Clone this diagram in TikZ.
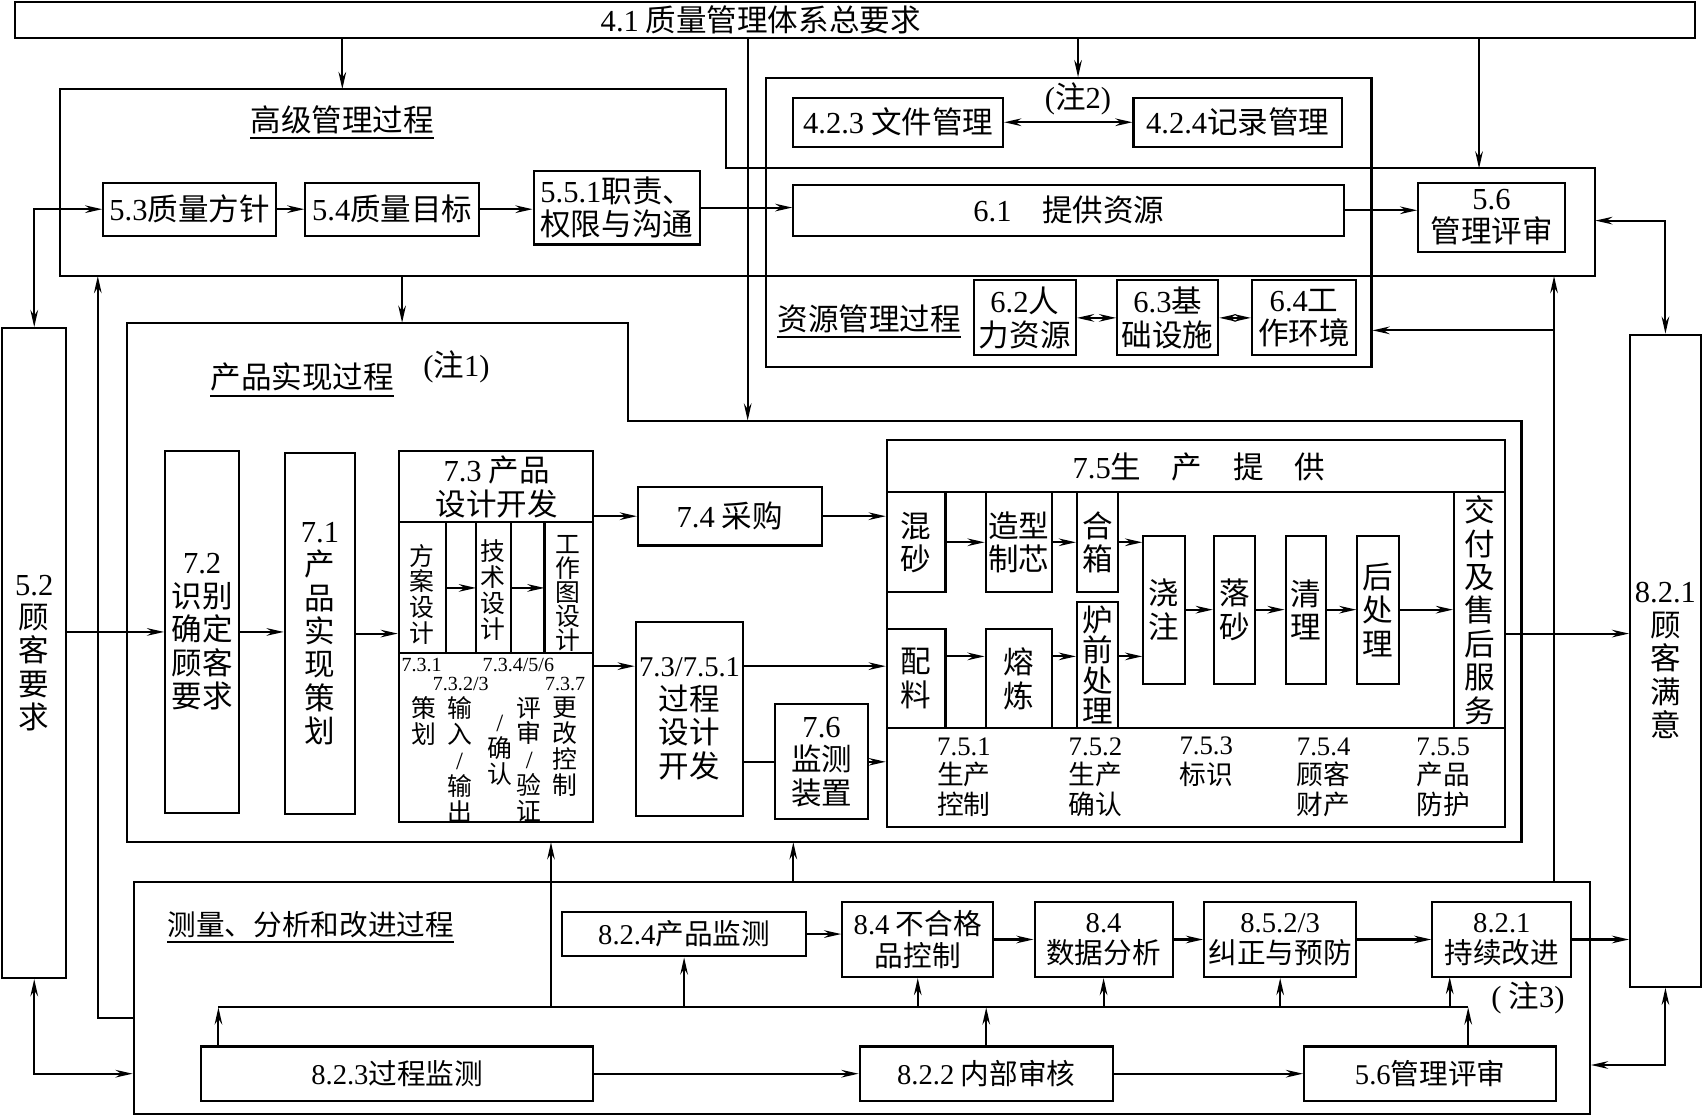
\documentclass[tikz,border=0pt]{standalone}
\usepackage{fontspec}
\setmainfont{Liberation Serif}
\newfontfamily\cjk{Noto Sans CJK SC}
\usetikzlibrary{arrows.meta,fit}
\newcommand\dg[1]{{\rmfamily #1}}

\tikzset{
  lbl/.style={font=\cjk\fontsize{16}{17.5}\selectfont, align=center, inner sep=0pt},
  box/.style={draw, line width=1.1pt, inner sep=0pt},
  tx/.style={label={[lbl]center:{#1}}},
  mtx/.style={label={[lbl,msr]center:{#1}}},
  sml/.style={font=\cjk\fontsize{13}{13.6}\selectfont, align=center, inner sep=0pt},
  tny/.style={font=\rmfamily\fontsize{10.5}{11}\selectfont, inner sep=0pt},
  mid/.style={font=\cjk\fontsize{14}{15.5}\selectfont, align=center, inner sep=0pt},
  msr/.style={font=\cjk\fontsize{15}{16.5}\selectfont},
  ln/.style={line width=1.1pt},
  arr/.style={ln, -{Stealth[length=9pt,width=4pt,inset=3pt]}},
  darr/.style={ln, {Stealth[length=9pt,width=4pt,inset=3pt]}-{Stealth[length=9pt,width=4pt,inset=3pt]}}
}

\begin{document}
\begin{tikzpicture}[x=0.02cm, y=-0.02cm]
\useasboundingbox (0,0) rectangle (1568,1027);

% 4.1
\node[box, fit={(14,2)(1560,35)}] (req) {};
\node[lbl] (reqt) at (700,18) {\dg{4.1} 质量管理体系总要求};

% top management process
\coordinate (hm1) at (55,82);
\coordinate (hm2) at (668,82);
\coordinate (hm3) at (668,155);
\coordinate (hm4) at (1468,155);
\coordinate (hm5) at (1468,254);
\coordinate (hm6) at (55,254);
\draw[ln] (hm1) -- (hm2) -- (hm3) -- (hm4) -- (hm5) -- (hm6) -- cycle;
\node[lbl] (hmt) at (315,110) {高级管理过程};
\draw[ln] ([yshift=-2pt]hmt.south west) -- ([yshift=-2pt]hmt.south east);
\node[box, fit={(95,168)(254,217)}, tx={\dg{5.3}质量方针}] (q53) {};
\node[box, fit={(281,168)(441,217)}, tx={\dg{5.4}质量目标}] (q54) {};
\node[box, fit={(491,157)(644,225)}, tx={\dg{5.5.1}职责、\\权限与沟通}] (q551) {};

% resource management process
\node[box, fit={(705,72)(1262,338)}] (res) {};
\node[box, fit={(730,90)(923,135)}, tx={\dg{4.2.3} 文件管理}] (d423) {};
\node[box, fit={(1043,90)(1235,135)}, tx={\dg{4.2.4}记录管理}] (d424) {};
\node[lbl] (n2) at (992,91) {\dg{(}注\dg{2)}};
\node[box, fit={(730,170)(1237,217)}, tx={\dg{6.1}\quad 提供资源}] (r61) {};
\node[box, fit={(1305,168)(1440,232)}, tx={\dg{5.6}\\管理评审}] (r56) {};
\node[lbl] (rest) at (800,293) {资源管理过程};
\draw[ln] ([yshift=-2pt]rest.south west) -- ([yshift=-2pt]rest.south east);
\node[box, fit={(896,258)(990,327)}, tx={\dg{6.2}人\\力资源}] (r62) {};
\node[box, fit={(1028,258)(1121,327)}, tx={\dg{6.3}基\\础设施}] (r63) {};
\node[box, fit={(1152,258)(1248,327)}, tx={\dg{6.4}工\\作环境}] (r64) {};

% customer columns
\node[box, fit={(2,302)(61,900)}, tx={\dg{5.2}\\顾\\客\\要\\求}] (c52) {};
\node[box, fit={(1500,308)(1565,908)}, tx={\dg{8.2.1}\\顾\\客\\满\\意}] (c821) {};

% product realization process
\coordinate (pr1) at (117,297);
\coordinate (pr2) at (578,297);
\coordinate (pr3) at (578,387);
\coordinate (pr4) at (1400,387);
\coordinate (pr5) at (1400,775);
\coordinate (pr6) at (117,775);
\draw[ln] (pr1) -- (pr2) -- (pr3) -- (pr4) -- (pr5) -- (pr6) -- cycle;
\node[lbl] (prt) at (278,347) {产品实现过程};
\draw[ln] ([yshift=-2pt]prt.south west) -- ([yshift=-2pt]prt.south east);
\node[lbl] (n1) at (420,338) {\dg{(}注\dg{1)}};

\node[box, fit={(152,415)(220,748)}, tx={\dg{7.2}\\识别\\确定\\顾客\\要求}] (p72) {};
\node[box, fit={(262,417)(327,749)}, tx={\dg{7.1}\\产\\品\\实\\现\\策\\划}] (p71) {};

% 7.3 design
\node[box, fit={(367,415)(546,756)}] (p73) {};
\coordinate (p73a) at (367,480);
\coordinate (p73b) at (367,601);
\draw[ln] (p73a) -- (p73a -| p73.east);
\draw[ln] (p73b) -- (p73b -| p73.east);
\node[lbl] (p73t) at (457,448) {\dg{7.3}\ 产品\\设计开发};
\foreach \x [count=\i] in {410,438,470,501} {
  \coordinate (dv\i) at (\x,541);
  \draw[ln] (\x,480) -- (\x,601);
}
\node[sml] (f1) at (388,547) {方\\案\\设\\计};
\node[sml] (f2) at (454,543) {技\\术\\设\\计};
\node[sml, font=\cjk\fontsize{13}{12.5}\selectfont] (f3) at (523,546) {工\\作\\图\\设\\计};
\draw[arr] (dv1) -- (dv2);
\draw[arr] (dv3) -- (dv4);
\node[tny] (t731) at (388,612) {7.3.1};
\node[tny] (t7323) at (424,629) {7.3.2/3};
\node[tny] (t73456) at (477,612) {7.3.4/5/6};
\node[tny] (t737) at (520,629) {7.3.7};
\node[sml, anchor=north] (v1) at (390,641) {策\\划};
\node[sml, anchor=north] (v2) at (423,641) {输\\入\\\dg{/}\\输\\出};
\node[sml, anchor=north] (v3) at (460,658) {\dg{/}\\确\\认};
\node[sml, anchor=north] (v4) at (487,641) {评\\审\\\dg{/}\\验\\证};
\node[sml, anchor=north] (v5) at (520,641) {更\\改\\控\\制};

\node[box, fit={(587,448)(756,502)}, tx={\dg{7.4} 采购}] (p74) {};
\node[box, fit={(585,572)(684,751)}, tx={{\fontsize{15}{17}\selectfont\dg{7.3/7.5.1}}\\过程\\设计\\开发}] (p7351) {};
\node[box, fit={(713,648)(799,754)}, tx={\dg{7.6}\\监测\\装置}] (p76) {};

% 7.5 production
\node[box, fit={(816,405)(1385,761)}] (p75) {};
\coordinate (p75a) at (816,453);
\coordinate (p75b) at (816,670);
\draw[ln] (p75a) -- (p75a -| p75.east);
\draw[ln] (p75b) -- (p75b -| p75.east);
\node[lbl] (p75t) at (1103,430) {\dg{7.5}生\quad 产\quad 提\quad 供};
\node[box, fit={(816,453)(870,545)}, tx={混\\砂}] (s1) {};
\node[box, fit={(907,453)(968,545)}, tx={造型\\制芯}] (s2) {};
\node[box, fit={(991,453)(1029,545)}, tx={合\\箱}] (s3) {};
\node[box, fit={(816,579)(870,670)}, tx={配\\料}] (s4) {};
\node[box, fit={(907,579)(968,670)}, tx={熔\\炼}] (s5) {};
\node[box, fit={(991,554)(1029,670)}, label={[lbl, font=\cjk\fontsize{16}{16}\selectfont]center:{炉\\前\\处\\理}}] (s6) {};
\node[box, fit={(1052,493)(1090,629)}, tx={浇\\注}] (s7) {};
\node[box, fit={(1117,493)(1155,629)}, tx={落\\砂}] (s8) {};
\node[box, fit={(1183,493)(1220,629)}, tx={清\\理}] (s9) {};
\node[box, fit={(1249,493)(1287,629)}, tx={后\\处\\理}] (s10) {};
\node[box, fit={(1338,453)(1385,670)}, tx={交\\付\\及\\售\\后\\服\\务}] (s11) {};
\node[mid] (l751) at (887,715) {\dg{7.5.1}\\生产\\控制};
\node[mid] (l752) at (1008,715) {\dg{7.5.2}\\生产\\确认};
\node[mid] (l753) at (1110,701) {\dg{7.5.3}\\标识};
\node[mid] (l754) at (1218,715) {\dg{7.5.4}\\顾客\\财产};
\node[mid] (l755) at (1328,715) {\dg{7.5.5}\\产品\\防护};

% measurement, analysis and improvement process
\node[box, fit={(123,812)(1463,1025)}] (mea) {};
\node[lbl, msr] (meat) at (286,851) {测量、分析和改进过程};
\draw[ln] ([yshift=-2pt]meat.south west) -- ([yshift=-2pt]meat.south east);
\node[box, fit={(517,839)(742,880)}, mtx={\dg{8.2.4}产品监测}] (m824) {};
\node[box, fit={(775,830)(914,899)}, mtx={\dg{8.4} 不合格\\品控制}] (m84a) {};
\node[box, fit={(952,830)(1079,899)}, mtx={\dg{8.4}\\数据分析}] (m84b) {};
\node[box, fit={(1108,830)(1248,899)}, mtx={\dg{8.5.2/3}\\纠正与预防}] (m85) {};
\node[box, fit={(1318,830)(1446,899)}, mtx={\dg{8.2.1}\\持续改进}] (m821) {};
\node[lbl] (n3) at (1406,918) {\dg{(} 注\dg{3)}};
\node[box, fit={(185,963)(546,1013)}, mtx={\dg{8.2.3}过程监测}] (m823) {};
\node[box, fit={(791,963)(1024,1013)}, mtx={\dg{8.2.2} 内部审核}] (m822) {};
\node[box, fit={(1200,963)(1432,1013)}, mtx={\dg{5.6}管理评审}] (m56) {};

% connectors at the top
\coordinate (k688) at (688,387);
\coordinate (k1360) at (1361,155);
\draw[arr] (req.south -| hmt) -- (hmt |- hm1);
\draw[arr] (req.south -| k688) -- (k688);
\draw[arr] (req.south -| n2) -- (n2 |- res.north);
\draw[arr] (req.south -| k1360) -- (k1360);
\draw[arr] (q53) -- (q54);
\draw[arr] (q54.east) -- (q54.east -| q551.west);
\draw[arr] (q551.east) -- (q551.east -| r61.west);
\draw[arr] (r61.east) -- (r61.east -| r56.west);
\draw[darr] (d423) -- (d424);
\draw[darr] (r62) -- (r63);
\draw[darr] (r63) -- (r64);
\draw[darr] (c52.north) |- (q53.west);
\coordinate (k203) at (1468,203);
\draw[darr] (k203) -| (c821.north);
\coordinate (k370) at (370,297);
\draw[arr] (k370 |- hm6) -- (k370);
\coordinate (k90) at (90,937);
\draw[arr] (k90 -| mea.west) -- (k90) -- (k90 |- hm6);
\coordinate (k1430) at (1430,304);
\draw[arr] (k1430 |- mea.north) -- (k1430 |- hm6);
\draw[arr] (k1430) -- (k1430 -| res.east);

% connectors in product realization
\coordinate (k613) at (600,613);
\coordinate (k604) at (900,604);
\coordinate (k583) at (1450,583);
\draw[arr] (c52.east |- p72) -- (p72.west);
\draw[arr] (p72.east) -- (p72.east -| p71.west);
\draw[arr] (p71.east) -- (p71.east -| p73.west);
\draw[arr] (p73.east |- p74) -- (p74.west);
\draw[arr] (p74.east) -- (p74.east -| p75.west);
\draw[arr] (p73.east |- k613) -- (k613 -| p7351.west);
\draw[arr] (p7351.east |- k613) -- (k613 -| p75.west);
\draw[ln] (p7351.east |- p76) -- (p76.west);
\draw[arr] (p76.east) -- (p76.east -| p75.west);
\draw[arr] (s1) -- (s2);
\draw[arr] (s2) -- (s3);
\draw[arr] (s4.east |- k604) -- (k604 -| s5.west);
\draw[arr] (s5.east |- k604) -- (k604 -| s6.west);
\draw[arr] (s3.east) -- (s3.east -| s7.west);
\draw[arr] (s6.east |- k604) -- (k604 -| s7.west);
\draw[arr] (s7) -- (s8);
\draw[arr] (s8) -- (s9);
\draw[arr] (s9) -- (s10);
\draw[arr] (s10.east) -- (s10.east -| s11.west);
\draw[arr] (s11.east |- k583) -- (k583 -| c821.west);

% connectors in measurement
\coordinate (bus1) at (201,927);
\coordinate (bus2) at (1351,927);
\coordinate (k507) at (507,775);
\coordinate (k730) at (730,775);
\coordinate (k1334) at (1334,899);
\coordinate (k980) at (1500,980);
\draw[ln] (bus1) -- (bus2);
\draw[arr] (m823.north -| bus1) -- (bus1);
\draw[arr] (m822.north) -- (m822.north |- bus1);
\draw[arr] (m56.north -| bus2) -- (bus2);
\draw[arr] (bus1 -| m824) -- (m824.south);
\draw[arr] (bus1 -| m84a) -- (m84a.south);
\draw[arr] (bus1 -| m84b) -- (m84b.south);
\draw[arr] (bus1 -| m85) -- (m85.south);
\draw[arr] (bus1 -| k1334) -- (k1334);
\draw[arr] (bus1 -| k507) -- (k507);
\draw[arr] (mea.north -| k730) -- (k730);
\draw[arr] (m824.east) -- (m824.east -| m84a.west);
\draw[arr] (m84a) -- (m84b);
\draw[arr] (m84b) -- (m85);
\draw[arr] (m85) -- (m821);
\draw[arr] (m821.east) -- (m821.east -| c821.west);
\draw[arr] (m823) -- (m822);
\draw[arr] (m822) -- (m56);
\draw[darr] (c52.south) |- (mea.west |- m823);
\draw[darr] (c821.south) |- (k980 -| mea.east);
\end{tikzpicture}
\end{document}
